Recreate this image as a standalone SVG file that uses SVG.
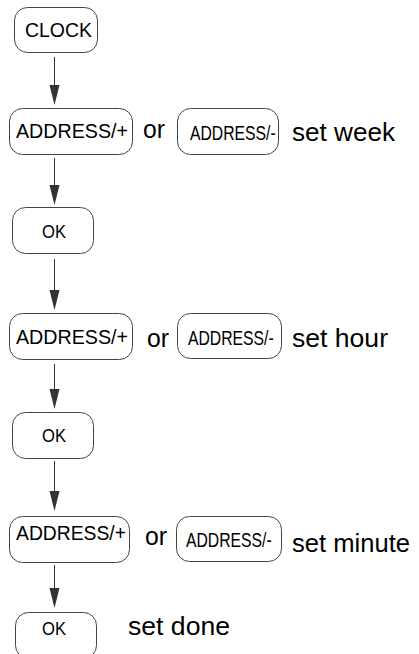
<svg xmlns="http://www.w3.org/2000/svg" width="419" height="654" viewBox="0 0 419 654">
<style>
.box{fill:#fff;stroke:#444;stroke-width:1}
.t{font-family:"Liberation Sans",Arial,sans-serif;fill:#000}
.btn{font-size:20px}
.bm{font-size:21px}
.ok{font-size:19px}
.lbl{font-size:26px}
.cn{stroke:#333;stroke-width:1;fill:none}
.ah{fill:#333}
</style>
<rect width="419" height="654" fill="#fff"/>
<g id="connectors">
<path class="cn" d="M54.5,57 V85"/><path class="ah" d="M49.5,85 H59.5 L54.5,105 Z"/>
<path class="cn" d="M54.5,158 V185"/><path class="ah" d="M49.5,185 H59.5 L54.5,205 Z"/>
<path class="cn" d="M54.5,259 V290"/><path class="ah" d="M49.5,290 H59.5 L54.5,310 Z"/>
<path class="cn" d="M54.5,364 V389"/><path class="ah" d="M49.5,389 H59.5 L54.5,409 Z"/>
<path class="cn" d="M54.5,461 V491"/><path class="ah" d="M49.5,491 H59.5 L54.5,511 Z"/>
<path class="cn" d="M54.5,565 V588"/><path class="ah" d="M49.5,588 H59.5 L54.5,608 Z"/>
</g>
<g id="clock"><rect class="box" x="14.5" y="7.5" width="83" height="45" rx="13"/><text class="t btn" x="25" y="37" textLength="67" lengthAdjust="spacingAndGlyphs">CLOCK</text></g>

<g id="addplus1"><rect class="box" x="9.5" y="108.5" width="123" height="46" rx="13"/><text class="t btn" x="16" y="138" textLength="112" lengthAdjust="spacingAndGlyphs">ADDRESS/+</text></g>
<text class="t lbl" x="143" y="138" textLength="22" lengthAdjust="spacingAndGlyphs">or</text>
<g id="addminus1"><rect class="box" x="177.5" y="108.5" width="101" height="46" rx="13"/><text class="t bm" transform="translate(190,140) scale(0.75,1)">ADDRESS/-</text></g>
<text class="t lbl" x="292" y="141" textLength="103" lengthAdjust="spacingAndGlyphs">set week</text>

<g id="ok1"><rect class="box" x="12.5" y="207.5" width="81" height="46" rx="13"/><text class="t ok" x="42" y="238" textLength="24" lengthAdjust="spacingAndGlyphs">OK</text></g>

<g id="addplus2"><rect class="box" x="9.5" y="313.5" width="123" height="46" rx="13"/><text class="t btn" x="16" y="344" textLength="112" lengthAdjust="spacingAndGlyphs">ADDRESS/+</text></g>
<text class="t lbl" x="147" y="347" textLength="22" lengthAdjust="spacingAndGlyphs">or</text>
<g id="addminus2"><rect class="box" x="177.5" y="313.5" width="104" height="45" rx="13"/><text class="t bm" transform="translate(188,345) scale(0.75,1)">ADDRESS/-</text></g>
<text class="t lbl" x="292" y="347" textLength="96" lengthAdjust="spacingAndGlyphs">set hour</text>

<g id="ok2"><rect class="box" x="12.5" y="412.5" width="81" height="46" rx="13"/><text class="t ok" x="42" y="442" textLength="24" lengthAdjust="spacingAndGlyphs">OK</text></g>

<g id="addplus3"><rect class="box" x="9.5" y="516.5" width="120" height="46" rx="13"/><text class="t btn" x="16" y="540" textLength="110" lengthAdjust="spacingAndGlyphs">ADDRESS/+</text></g>
<text class="t lbl" x="145" y="545" textLength="22" lengthAdjust="spacingAndGlyphs">or</text>
<g id="addminus3"><rect class="box" x="176.5" y="516.5" width="105" height="45" rx="13"/><text class="t bm" transform="translate(186,547) scale(0.75,1)">ADDRESS/-</text></g>
<text class="t lbl" x="292" y="552" textLength="118" lengthAdjust="spacingAndGlyphs">set minute</text>

<g id="ok3"><rect class="box" x="15.5" y="612.5" width="81" height="46" rx="13"/><text class="t ok" x="42" y="635" textLength="24" lengthAdjust="spacingAndGlyphs">OK</text></g>
<text class="t lbl" x="128" y="635" textLength="102" lengthAdjust="spacingAndGlyphs">set done</text>
</svg>
